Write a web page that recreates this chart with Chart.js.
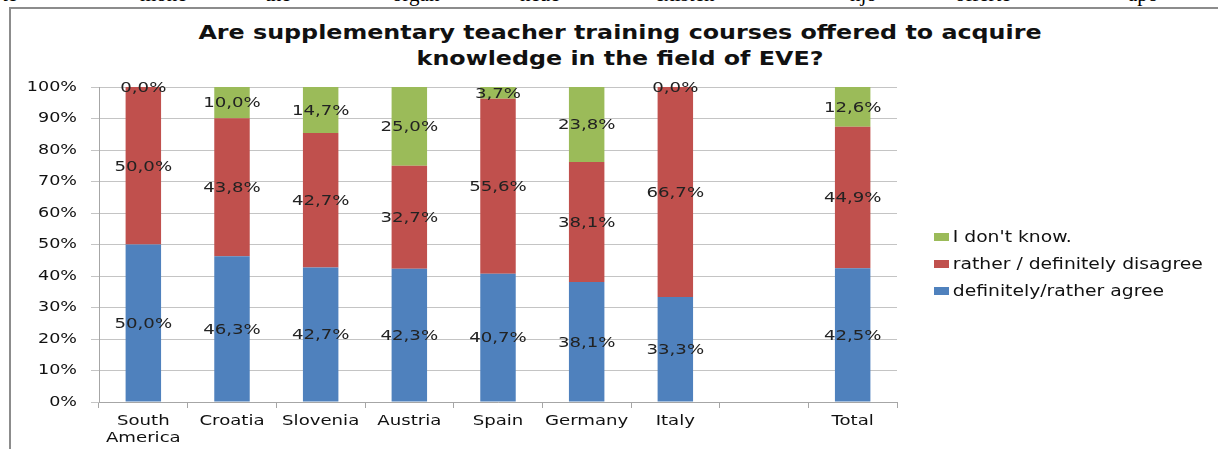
<!DOCTYPE html>
<html><head><meta charset="utf-8">
<script src="https://cdn.jsdelivr.net/npm/chart.js@4.4.1/dist/chart.umd.min.js"></script>
<style>
html,body{margin:0;padding:0;background:#fff;width:1218px;height:449px;overflow:hidden;position:relative;font-family:"DejaVu Sans",sans-serif;}
#frame{position:absolute;left:9px;top:7px;width:1300px;height:500px;border-left:2px solid #8c8c8c;border-top:2px solid #8c8c8c;}
#doc span{position:absolute;top:-18px;font-family:"Liberation Serif",serif;font-size:21px;color:#000;}
#title{position:absolute;left:0;width:1240px;top:20px;text-align:center;font-weight:bold;font-size:19.5px;line-height:26px;color:#111;transform:scaleX(1.22);transform-origin:620px 0;}
#wrap{position:absolute;left:0;top:0;width:1218px;height:449px;}
#legend{position:absolute;left:934px;top:228px;font-size:15px;color:#111;transform:scaleX(1.25);transform-origin:0 0;}
#legend div{height:27px;line-height:18px;white-space:nowrap;}
#legend i{display:inline-block;width:12px;height:8px;margin-right:3px;vertical-align:1px;}
</style></head>
<body>
<div id="doc"></div>
<div id="frame"></div>
<div id="title">Are supplementary teacher training courses offered to acquire<br>knowledge in the field of EVE?</div>
<div id="wrap"><canvas id="c" width="1218" height="449"></canvas></div>
<div id="legend"></div>
<script>
const categories = [["South","America"], "Croatia", "Slovenia", "Austria", "Spain", "Germany", "Italy", "", "Total"];
const agree    = [50.0, 46.3, 42.7, 42.3, 40.7, 38.1, 33.3, null, 42.5];
const disagree = [50.0, 43.8, 42.7, 32.7, 55.6, 38.1, 66.7, null, 44.9];
const dontKnow = [0.0, 10.0, 14.7, 25.0, 3.7, 23.8, 0.0, null, 12.6];
const seriesNames = ["definitely/rather agree", "rather / definitely disagree", "I don't know."];
const seriesColors = ["#4f81bd", "#c0504d", "#9bbb59"];
const yTicks = [0,10,20,30,40,50,60,70,80,90,100];
const docWords = [["te",2],["mone",140],["the",265],["organ",392],["neue",520],["existen",655],["hjo",850],["offerte",955],["apo",1128]];

const doc = document.getElementById('doc');
docWords.forEach(([w,x])=>{const s=document.createElement('span');s.textContent=w;s.style.left=x+'px';doc.appendChild(s);});

const lg = document.getElementById('legend');
[2,1,0].forEach(i=>{const d=document.createElement('div');d.innerHTML='<i style="background:'+seriesColors[i]+'"></i>'+seriesNames[i];lg.appendChild(d);});

function stretchText(ctx, txt, x, y, align, sx){
  ctx.save();
  ctx.translate(x, y);
  ctx.scale(sx, 1);
  ctx.textAlign = align;
  ctx.fillText(txt, 0, 0);
  ctx.restore();
}

const labelPlugin = {
  id:'segLabels',
  afterDatasetsDraw(chart){
    const ctx = chart.ctx;
    ctx.save();
    ctx.font = '14.5px "DejaVu Sans", sans-serif';
    ctx.fillStyle = '#222';
    ctx.textBaseline = 'middle';
    chart.data.datasets.forEach((ds, di)=>{
      const meta = chart.getDatasetMeta(di);
      meta.data.forEach((el, i)=>{
        const v = ds.data[i];
        if (v === null || v === undefined) return;
        const p = el.getProps(['x','y','base'], true);
        const txt = v.toFixed(1).replace('.', ',') + '%';
        stretchText(ctx, txt, p.x, (p.y + p.base)/2 + 1, 'center', 1.25);
      });
    });
    ctx.restore();
  },
  afterDraw(chart){
    const ctx = chart.ctx;
    const xs = chart.scales.x, ys = chart.scales.y;
    ctx.save();
    ctx.fillStyle = '#111';
    ctx.textBaseline = 'middle';
    ctx.font = '13.5px "DejaVu Sans", sans-serif';
    ys.ticks.forEach(t=>{
      stretchText(ctx, t.value + '%', 77, ys.getPixelForValue(t.value), 'right', 1.3);
    });
    ctx.font = '14.5px "DejaVu Sans", sans-serif';
    chart.data.labels.forEach((lab, i)=>{
      const x = xs.getPixelForTick(i);
      const lines = Array.isArray(lab) ? lab : [lab];
      lines.forEach((ln, j)=>{
        stretchText(ctx, ln, x, 421 + j*17, 'center', 1.25);
      });
    });
    ctx.restore();
  }
};

new Chart(document.getElementById('c'), {
  type:'bar',
  data:{
    labels: categories,
    datasets: [agree, disagree, dontKnow].map((d,i)=>({
      label: seriesNames[i], data: d, backgroundColor: seriesColors[i],
      borderWidth:0, categoryPercentage:1.0, barPercentage:0.40
    }))
  },
  options:{
    responsive:false, animation:false,
    layout:{padding:{left:0,right:321,top:87,bottom:0}},
    plugins:{legend:{display:false}, title:{display:false}, tooltip:{enabled:false}},
    scales:{
      x:{
        stacked:true,
        afterFit(s){ s.height = 47; },
        grid:{display:true, drawOnChartArea:false, offset:true, tickLength:6, color:'#a6a6a6'},
        border:{color:'#a6a6a6', width:1},
        ticks:{display:false, autoSkip:false}
      },
      y:{
        stacked:true, min:0, max:100,
        afterFit(s){ s.width = 99; },
        afterBuildTicks(s){ s.ticks = yTicks.map(v=>({value:v})); },
        grid:{color:'#c4c4c4', tickLength:8, lineWidth:1},
        border:{color:'#a6a6a6', width:1},
        ticks:{display:false}
      }
    }
  },
  plugins:[labelPlugin]
});
</script>
</body></html>
